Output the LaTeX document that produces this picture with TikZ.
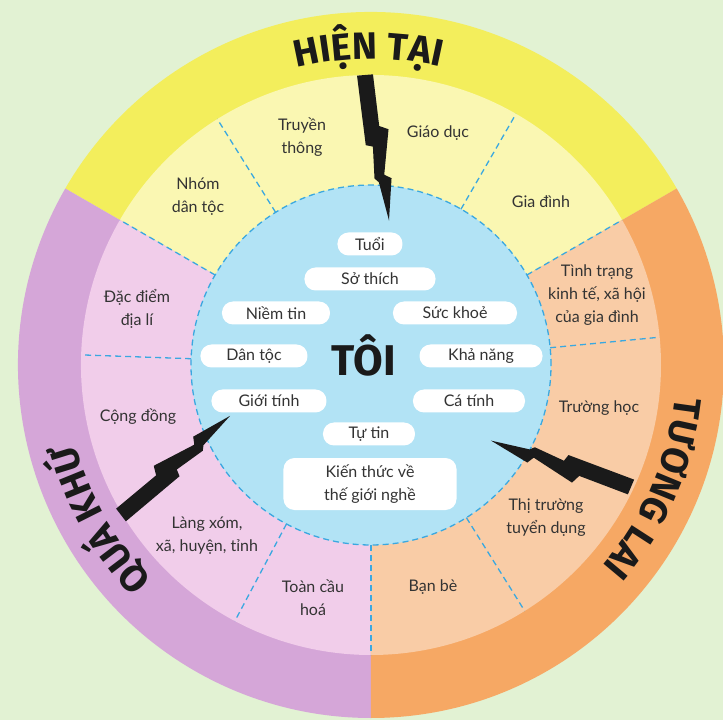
\documentclass[tikz,border=0pt]{standalone}
\usepackage{fontspec}
\setmainfont{Lato}
\newfontfamily\headfont{Fira Sans}
\usetikzlibrary{decorations.text}

\definecolor{bgGreen}{HTML}{E2F2D3}
\definecolor{nowDark}{HTML}{F3EE5C}
\definecolor{nowLight}{HTML}{FAF7B2}
\definecolor{pastDark}{HTML}{D5A6D8}
\definecolor{pastLight}{HTML}{F1CDEA}
\definecolor{futDark}{HTML}{F6A864}
\definecolor{futLight}{HTML}{F9CCA6}
\definecolor{meBlue}{HTML}{B2E3F5}
\definecolor{dashBlue}{HTML}{3AA8E0}
\definecolor{inkGray}{HTML}{333333}
\definecolor{inkBlack}{HTML}{1A1A1A}

\newcommand\titlefont{\headfont\bfseries\fontsize{38}{40}\selectfont\color{inkBlack}}

\tikzset{
  bolt/.pic={
    \fill[inkBlack] (0,-8) -- (0,8) -- (52,10) -- (56,19) -- (101,11) -- (105,18)
      -- (147,12) -- (108,5) -- (104,1) -- (72,2) -- (70,-5) -- cycle;
  }
}

\begin{document}
\begin{tikzpicture}[x=1pt, y=1pt,
  every node/.style={font=\fontsize{16}{23}\selectfont, text=inkGray},
  trait/.style={fill=white, rounded corners=11pt, minimum height=23pt, inner sep=0pt},
  ringtext/.style={align=center},
  sep/.style={dashBlue, line width=1.3pt, dash pattern=on 6pt off 4pt},
  title/.style={decorate, decoration={text along path, text align=center, text={|\titlefont|#1}}}]
  \useasboundingbox (-371,-355) rectangle (352,365);
  \clip (-371,-355) rectangle (352,365);
  \fill[bgGreen] (-371,-355) rectangle (352,365);

  % three periods: outer ring and inner ring
  \foreach \a/\dark/\light in {30/nowDark/nowLight, 150/pastDark/pastLight, 270/futDark/futLight} {
    \fill[\dark] (0,0) -- (\a:353) arc[start angle=\a, end angle=\a+120, radius=353] -- cycle;
    \fill[\light] (0,0) -- (\a:290) arc[start angle=\a, end angle=\a+120, radius=290] -- cycle;
  }

  % me
  \fill[meBlue] (0,0) circle (180);
  \draw[sep] (0,0) circle (180);
  \foreach \a in {5.5, 30, 60, 122, 150, 178, 242, 270, 302}
    \draw[sep] (\a:180) -- (\a:290);

  % lightning
  \pic[rotate=-85.3] at (-6,290) {bolt};
  \pic[rotate=37.6] at (-250,-150) {bolt};
  \pic[rotate=157] at (260,-122) {bolt};

  % traits
  \node[trait, minimum width=65] (tuoi) at (-1,121) {Tuổi};
  \node[trait, minimum width=131] (sothich) at (-1,86) {Sở thích};
  \node[trait, minimum width=108] (niemtin) at (-95,52) {Niềm tin};
  \node[trait, minimum width=124] (suckhoe) at (84,52) {Sức khoẻ};
  \node[trait, minimum width=107] (dantoc) at (-117,9) {Dân tộc};
  \node[trait, minimum width=123] (khanang) at (110,9) {Khả năng};
  \node[trait, minimum width=115] (gioitinh) at (-102,-36) {Giới tính};
  \node[trait, minimum width=112] (catinh) at (98,-36) {Cá tính};
  \node[trait, minimum width=92] (tutin) at (-2,-69) {Tự tin};
  \node[trait, minimum width=173, minimum height=52, align=center] (kienthuc) at (-1,-119) {Kiến thức về\\thế giới nghề};
  \node[font=\headfont\bfseries\fontsize{43}{45}\selectfont, text=inkBlack] (toi) at (-7,10) {TÔI};

  % surroundings
  \node[ringtext] (truyenthong) at (-69,228) {Truyền\\thông};
  \node[ringtext] (giaoduc) at (67,232) {Giáo dục};
  \node[ringtext] (nhom) at (-173,168) {Nhóm\\dân tộc};
  \node[ringtext] (giadinh) at (170,163) {Gia đình};
  \node[ringtext] (tinhtrang) at (226,70) {Tình trạng\\kinh tế, xã hội\\của gia đình};
  \node[ringtext] (truonghoc) at (228,-43) {Trường học};
  \node[ringtext] (thitruong) at (175,-153) {Thị trường\\tuyển dụng};
  \node[ringtext] (banbe) at (62,-222) {Bạn bè};
  \node[ringtext] (toancau) at (-58,-233) {Toàn cầu\\hoá};
  \node[ringtext] (langxom) at (-164,-171) {Làng xóm,\\xã, huyện, tỉnh};
  \node[ringtext] (congdong) at (-233,-52) {Cộng đồng};
  \node[ringtext] (dacdiem) at (-234,56) {Đặc điểm\\địa lí};

  % periods
  \path[title={HIỆN TẠI}] (131:306) arc[start angle=131, end angle=50, radius=306];
  \path[title={QUÁ KHỨ}] (250:306) arc[start angle=250, end angle=169, radius=306];
  \path[title={TƯƠNG LAI}] (17:306) arc[start angle=17, end angle=-64, radius=306];
\end{tikzpicture}
\end{document}
